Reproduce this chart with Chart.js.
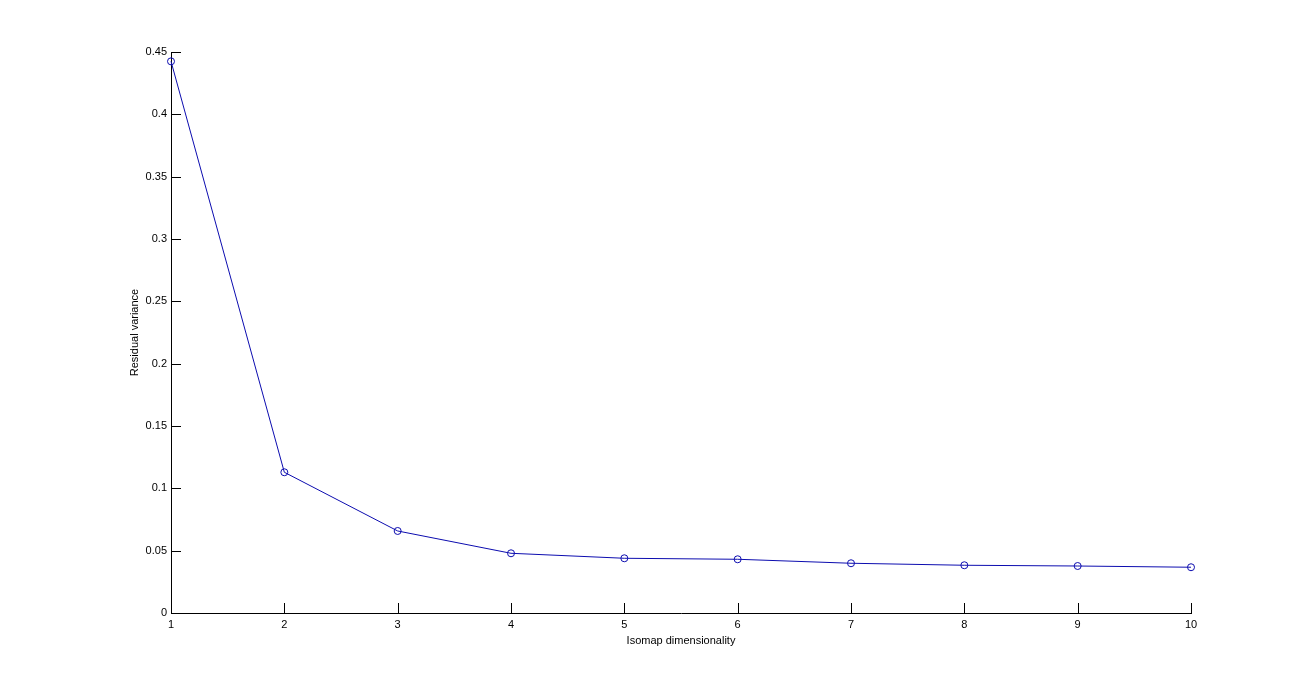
<!DOCTYPE html>
<html>
<head>
<meta charset="utf-8">
<script src="https://cdn.jsdelivr.net/npm/chart.js@4"></script>
<style>
  html, body { margin: 0; padding: 0; background: #fff; }
  canvas { display: block; }
</style>
</head>
<body>
<canvas id="chart" width="1316" height="689"></canvas>
<script>
// Data
const dims = ['1', '2', '3', '4', '5', '6', '7', '8', '9', '10'];
const residualVariance = [0.4425, 0.1129, 0.0658, 0.0479, 0.0439, 0.0431, 0.0399, 0.0383, 0.0377, 0.0367];
const yTicks = [0, 0.05, 0.1, 0.15, 0.2, 0.25, 0.3, 0.35, 0.4, 0.45];

const lineBlue = 'rgb(12,12,175)';
const tickFont = { family: 'Liberation Sans, Arial, sans-serif', size: 11 };

// MATLAB style ticks that point into the plot
const innerTicks = {
  id: 'innerTicks',
  afterDraw(chart) {
    const ctx = chart.ctx;
    const x = chart.scales.x, y = chart.scales.y;
    const area = chart.chartArea;
    ctx.save();
    ctx.strokeStyle = '#000';
    ctx.lineWidth = 1;
    ctx.beginPath();
    y.ticks.forEach(t => {
      const py = Math.round(y.getPixelForValue(t.value)) + 0.5;
      ctx.moveTo(area.left, py);
      ctx.lineTo(area.left + 10, py);
    });
    x.ticks.forEach((t, i) => {
      const px = Math.round(x.getPixelForTick(i)) + 0.5;
      ctx.moveTo(px, area.bottom);
      ctx.lineTo(px, area.bottom - 10);
    });
    ctx.stroke();
    ctx.restore();
  }
};

new Chart(document.getElementById('chart'), {
  type: 'line',
  data: {
    labels: dims,
    datasets: [{
      data: residualVariance,
      borderColor: lineBlue,
      borderWidth: 1,
      pointStyle: 'circle',
      pointRadius: 3.5,
      pointBorderWidth: 1,
      pointBorderColor: lineBlue,
      pointBackgroundColor: 'rgba(0,0,0,0)',
      tension: 0,
      clip: false
    }]
  },
  options: {
    responsive: false,
    animation: false,
    events: [],
    layout: { padding: { left: 0, top: 52, right: 125, bottom: 0 } },
    plugins: { legend: { display: false }, tooltip: { enabled: false } },
    scales: {
      x: {
        type: 'category',
        offset: false,
        grid: { display: false, drawTicks: false, offset: false },
        border: { display: true, color: '#000', width: 1 },
        ticks: { color: '#000', font: tickFont, padding: 5, maxRotation: 0, autoSkip: false },
        title: {
          display: true,
          text: 'Isomap dimensionality',
          color: '#000',
          font: tickFont,
          padding: { top: 0, bottom: 41 }
        },
        afterFit(scale) { scale.height = 76; }
      },
      y: {
        type: 'linear',
        min: 0,
        max: 0.45,
        grid: { display: false, drawTicks: false },
        border: { display: true, color: '#000', width: 1 },
        ticks: {
          color: '#000',
          font: tickFont,
          padding: 4,
          callback: v => String(v)
        },
        afterBuildTicks(scale) {
          scale.ticks = yTicks.map(v => ({ value: v }));
        },
        title: {
          display: true,
          text: 'Residual variance',
          color: '#000',
          font: tickFont,
          padding: { top: 128, bottom: 0 }
        },
        afterFit(scale) { scale.width = 171; }
      }
    }
  },
  plugins: [innerTicks]
});
</script>
</body>
</html>
